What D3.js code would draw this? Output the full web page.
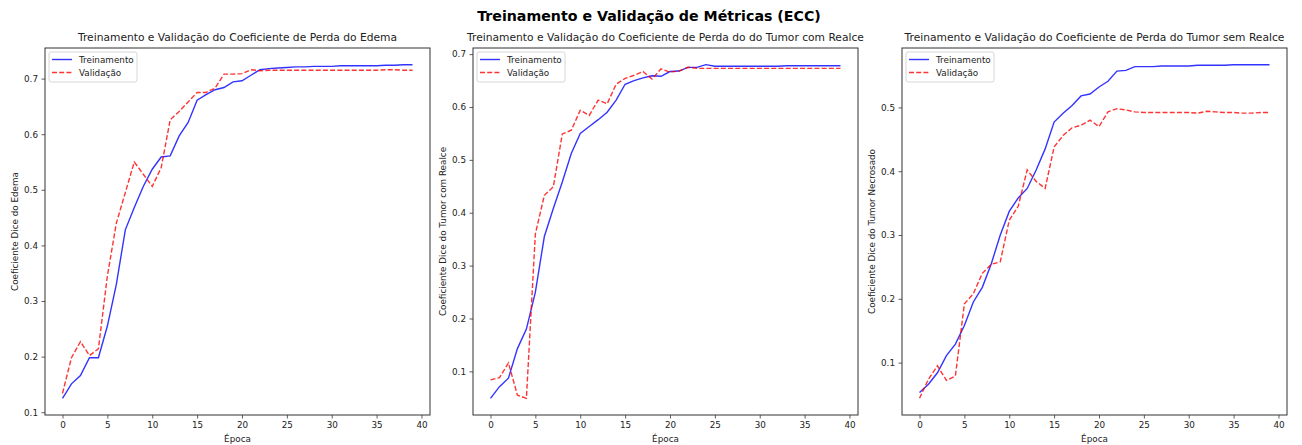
<!DOCTYPE html>
<html lang="pt">
  <head>
    <meta charset="UTF-8" />
    <title>Treinamento e Validação de Métricas (ECC)</title>
    <style>
      body {
        margin: 0;
        background: #fff;
      }
      svg text {
        font-family: "DejaVu Sans", sans-serif;
        fill: #222;
      }
    </style>
  </head>
  <body>
    <div id="chart"></div>
    <script src="https://cdnjs.cloudflare.com/ajax/libs/d3/7.8.5/d3.min.js"></script>
    <script>
      var width = 1302,
        height = 445;

      var epochs = d3.range(0, 40);
      var xTicks = [0, 5, 10, 15, 20, 25, 30, 35, 40];

      // Edema
      var edemaTrain = [
        0.125, 0.151, 0.166, 0.198, 0.198, 0.255, 0.33, 0.428, 0.468, 0.506,
        0.537, 0.559, 0.561, 0.597, 0.621, 0.661, 0.671, 0.68, 0.684, 0.694,
        0.696, 0.706, 0.716, 0.718, 0.719, 0.72, 0.721, 0.721, 0.722, 0.722,
        0.722, 0.723, 0.723, 0.723, 0.723, 0.723, 0.724, 0.724, 0.725, 0.725,
      ];
      var edemaVal = [
        0.134, 0.198, 0.227, 0.202, 0.214, 0.345, 0.44, 0.495, 0.55, 0.528,
        0.506, 0.54, 0.626, 0.641, 0.658, 0.675, 0.675, 0.683, 0.708, 0.708,
        0.709, 0.716, 0.714, 0.715, 0.715, 0.715, 0.715, 0.715, 0.715, 0.715,
        0.715, 0.715, 0.715, 0.715, 0.715, 0.715, 0.716, 0.716, 0.715, 0.715,
      ];
      var edemaYTicks = [0.1, 0.2, 0.3, 0.4, 0.5, 0.6, 0.7];

      // Tumor com realce
      var realceTrain = [
        0.049, 0.071, 0.087, 0.143, 0.18, 0.25, 0.355, 0.408, 0.458, 0.512,
        0.55, 0.563, 0.576, 0.59, 0.613, 0.643, 0.65, 0.655, 0.659, 0.658,
        0.667, 0.668, 0.675, 0.675, 0.68, 0.677, 0.677, 0.677, 0.677, 0.677,
        0.677, 0.677, 0.677, 0.678, 0.678, 0.678, 0.678, 0.678, 0.678, 0.678,
      ];
      var realceVal = [
        0.084, 0.088, 0.116, 0.055, 0.049, 0.36, 0.433, 0.449, 0.549, 0.556,
        0.594, 0.584, 0.613, 0.606, 0.643, 0.654, 0.66, 0.667, 0.653, 0.672,
        0.666, 0.668, 0.675, 0.673, 0.673, 0.673, 0.673, 0.673, 0.673, 0.673,
        0.673, 0.673, 0.673, 0.673, 0.673, 0.673, 0.673, 0.673, 0.673, 0.673,
      ];
      var realceYTicks = [0.1, 0.2, 0.3, 0.4, 0.5, 0.6, 0.7];

      // Tumor sem realce (necrosado)
      var necroTrain = [
        0.053, 0.066, 0.084, 0.111, 0.129, 0.158, 0.195, 0.218, 0.255, 0.3,
        0.337, 0.358, 0.373, 0.402, 0.435, 0.477, 0.491, 0.503, 0.518, 0.521,
        0.532, 0.541, 0.557, 0.558, 0.564, 0.564, 0.564, 0.565, 0.565, 0.565,
        0.565, 0.566, 0.566, 0.566, 0.566, 0.567, 0.567, 0.567, 0.567, 0.567,
      ];
      var necroVal = [
        0.044, 0.074, 0.095, 0.072, 0.079, 0.192, 0.208, 0.24, 0.254, 0.258,
        0.323, 0.345, 0.402, 0.384, 0.373, 0.438, 0.456, 0.468, 0.472, 0.48,
        0.47, 0.493, 0.498, 0.496, 0.493, 0.492, 0.492, 0.492, 0.492, 0.492,
        0.492, 0.491, 0.494, 0.493, 0.492, 0.492, 0.491, 0.491, 0.492, 0.492,
      ];
      var necroYTicks = [0.1, 0.2, 0.3, 0.4, 0.5];

      var panels = [
        {
          title: "Treinamento e Validação do Coeficiente de Perda do Edema",
          ylabel: "Coeficiente Dice do Edema",
          train: edemaTrain,
          val: edemaVal,
          yTicks: edemaYTicks,
          left: 45,
        },
        {
          title:
            "Treinamento e Validação do Coeficiente de Perda do do Tumor com Realce",
          ylabel: "Coeficiente Dice do Tumor com Realce",
          train: realceTrain,
          val: realceVal,
          yTicks: realceYTicks,
          left: 473,
        },
        {
          title:
            "Treinamento e Validação do Coeficiente de Perda do Tumor sem Realce",
          ylabel: "Coeficiente Dice do Tumor Necrosado",
          train: necroTrain,
          val: necroVal,
          yTicks: necroYTicks,
          left: 902,
        },
      ];

      var axW = 385,
        axTop = 48,
        axBottom = 415;
      var smallFont = "8.8px";

      var svg = d3
        .select("#chart")
        .append("svg")
        .attr("width", width)
        .attr("height", height);

      svg
        .append("text")
        .attr("x", 649)
        .attr("y", 21)
        .attr("text-anchor", "middle")
        .style("font-size", "14.2px")
        .style("font-weight", "bold")
        .style("fill", "#000")
        .text("Treinamento e Validação de Métricas (ECC)");

      panels.forEach(function (p) {
        // matplotlib-like 5% margins
        var xMin = d3.min(epochs),
          xMax = d3.max(epochs);
        var xPad = (xMax - xMin) * 0.05;
        var x = d3
          .scaleLinear()
          .domain([xMin - xPad, xMax + xPad])
          .range([p.left, p.left + axW]);

        var all = p.train.concat(p.val);
        var yMin = d3.min(all),
          yMax = d3.max(all);
        var yPad = (yMax - yMin) * 0.05;
        var y = d3
          .scaleLinear()
          .domain([yMin - yPad, yMax + yPad])
          .range([axBottom, axTop]);

        var g = svg.append("g");

        // axes
        g.append("g")
          .attr("transform", "translate(0," + axBottom + ")")
          .call(
            d3
              .axisBottom(x)
              .tickValues(xTicks)
              .tickSize(3.5)
              .tickPadding(3.5)
              .tickFormat(d3.format("d"))
          )
          .call(styleAxis);

        g.append("g")
          .attr("transform", "translate(" + p.left + ",0)")
          .call(
            d3
              .axisLeft(y)
              .tickValues(p.yTicks)
              .tickSize(3.5)
              .tickPadding(3.5)
              .tickFormat(d3.format(".1f"))
          )
          .call(styleAxis);

        // lines
        var line = d3
          .line()
          .x(function (d, i) {
            return x(epochs[i]);
          })
          .y(function (d) {
            return y(d);
          });

        g.append("path")
          .datum(p.train)
          .attr("d", line)
          .attr("fill", "none")
          .attr("stroke", "blue")
          .attr("stroke-opacity", 0.8)
          .attr("stroke-width", 1.4);

        g.append("path")
          .datum(p.val)
          .attr("d", line)
          .attr("fill", "none")
          .attr("stroke", "red")
          .attr("stroke-opacity", 0.8)
          .attr("stroke-width", 1.4)
          .attr("stroke-dasharray", "5,2.2");

        // frame
        g.append("rect")
          .attr("x", p.left)
          .attr("y", axTop)
          .attr("width", axW)
          .attr("height", axBottom - axTop)
          .attr("fill", "none")
          .attr("stroke", "#333")
          .attr("stroke-width", 1);

        // titles
        g.append("text")
          .attr("x", p.left + axW / 2)
          .attr("y", 41)
          .attr("text-anchor", "middle")
          .style("font-size", "10.7px")
          .text(p.title);

        g.append("text")
          .attr("x", p.left + axW / 2)
          .attr("y", 442)
          .attr("text-anchor", "middle")
          .style("font-size", smallFont)
          .text("Época");

        g.append("text")
          .attr(
            "transform",
            "translate(" +
              (p.left - 27) +
              "," +
              (axTop + axBottom) / 2 +
              ") rotate(-90)"
          )
          .attr("text-anchor", "middle")
          .style("font-size", smallFont)
          .text(p.ylabel);

        // legend
        var lg = g
          .append("g")
          .attr("transform", "translate(" + (p.left + 4) + "," + (axTop + 4) + ")");
        lg.append("rect")
          .attr("width", 88)
          .attr("height", 30)
          .attr("rx", 2)
          .attr("fill", "#fff")
          .attr("fill-opacity", 0.8)
          .attr("stroke", "#d6d6d6")
          .attr("stroke-width", 1);
        var items = [
          { label: "Treinamento", color: "blue", dash: null },
          { label: "Validação", color: "red", dash: "5,2.2" },
        ];
        items.forEach(function (it, i) {
          var yy = 7.5 + i * 13;
          lg.append("line")
            .attr("x1", 3)
            .attr("x2", 23)
            .attr("y1", yy)
            .attr("y2", yy)
            .attr("stroke", it.color)
            .attr("stroke-opacity", 0.8)
            .attr("stroke-width", 1.4)
            .attr("stroke-dasharray", it.dash);
          lg.append("text")
            .attr("x", 30)
            .attr("y", yy + 3.2)
            .style("font-size", smallFont)
            .text(it.label);
        });
      });

      function styleAxis(sel) {
        sel.select(".domain").remove();
        sel.selectAll(".tick line").attr("stroke", "#333").attr("stroke-width", 0.8);
        sel
          .selectAll(".tick text")
          .style("font-size", smallFont)
          .style("font-family", '"DejaVu Sans", sans-serif')
          .attr("fill", "#222");
      }
    </script>
  </body>
</html>
